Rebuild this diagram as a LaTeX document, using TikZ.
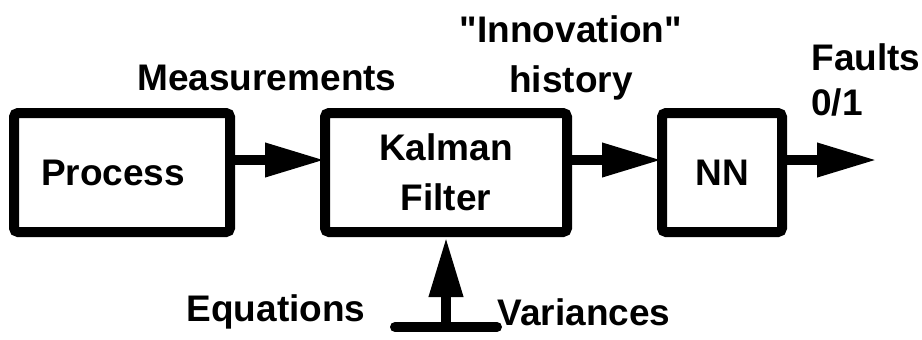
\documentclass[tikz,border=0pt]{standalone}
\usepackage{fontspec}
\newfontfamily\arialfont{Liberation Sans}
\usepackage{tikz}
\usetikzlibrary{positioning,arrows.meta}

\begin{document}
\begin{tikzpicture}[x=0.5pt, y=-0.5pt,
  every node/.style={font=\arialfont\fontsize{18.5}{25}\selectfont\bfseries},
  block/.style={draw, line width=5pt, rounded corners=2pt,
    align=center, inner sep=0pt},
  label/.style={align=center, inner sep=0pt},
  arr/.style={-{Triangle[length=30pt,width=16pt]}, line width=5pt},
]
\useasboundingbox (0,0) rectangle (922,339);

\node[block, minimum width=108pt, minimum height=59.5pt] at (122,172.5) (process) {Process\hspace*{9pt}};
\node[block, minimum width=121pt, minimum height=59.5pt] at (446,172.5) (kalman)  {Kalman\\Filter};
\node[block, minimum width=60pt,  minimum height=59.5pt] at (722,172.5) (nn)      {NN};

\node[label] at (267,78)  (meas)  {Measurements};
\node[label] at (571,58)  (innov) {"Innovation"\\history};
\node[label, anchor=west, align=left] at (811,80) (faults) {Faults\\[-2.5pt]0/1};
\node[label] at (276,312) (eqs)   {Equations};
\node[label] at (584,312) (vars)  {Variances};

\coordinate (out)  at (877,160);
\coordinate (feed) at (446,327);
\coordinate (barl) at (395,327);
\coordinate (barr) at (497,327);

\draw[arr, shorten >=-2.5pt] ([yshift=6.25pt]process.east) -- ([yshift=6.25pt]kalman.west);
\draw[arr, shorten >=-2.5pt] ([yshift=6.25pt]kalman.east) -- ([yshift=6.25pt]nn.west);
\draw[arr] ([yshift=6.25pt]nn.east) -- (out);
\draw[arr] (feed) -- (kalman.south);
\draw[line width=5pt, line cap=round] (barl) -- (barr);
\end{tikzpicture}
\end{document}
